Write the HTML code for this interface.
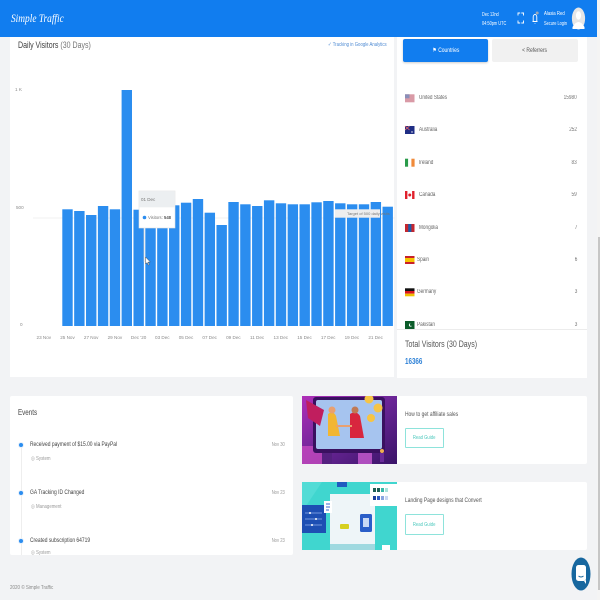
<!DOCTYPE html>
<html>
<head>
<meta charset="utf-8">
<style>
  html,body{margin:0;padding:0;}
  body{width:600px;height:600px;overflow:hidden;background:#f2f3f5;position:relative;font-family:"Liberation Sans",sans-serif;}
  .a{position:absolute;}
  .t{position:absolute;white-space:nowrap;line-height:10px;height:10px;}
  .n{display:inline-block;transform:scaleX(.78);transform-origin:left center;}
  .nr{display:inline-block;transform:scaleX(.78);transform-origin:right center;}
  .card{position:absolute;background:#fff;}
</style>
</head>
<body>

<!-- header -->
<div class="a" style="left:0;top:0;width:597px;height:37px;background:#117def;"></div>
<div class="t" style="left:11px;top:11px;height:14px;line-height:14px;color:#fff;font-family:'Liberation Serif',serif;font-style:italic;font-size:12px;"><span class="n">Simple Traffic</span></div>
<div class="t" style="left:482px;top:10px;color:#fff;font-size:5px;"><span class="n">Dec 12nd</span></div>
<div class="t" style="left:482px;top:19px;color:#fff;font-size:5px;"><span class="n">04:50pm UTC</span></div>
<svg class="a" style="left:0;top:0" width="600" height="40">
  <g stroke="#fff" stroke-width="0.9" fill="none">
    <path d="M518 15.5V13h2.2M521.3 13h2.2v2.5M523.5 20.5V23h-2.2M520.2 23H518v-2.5"/>
    <path d="M532.5 21.5h5M533.2 21.5v-4.5a1.8 2.5 0 0 1 3.6 0v4.5M535 23v.6"/>
  </g>
  <circle cx="537.2" cy="13" r="1.5" fill="#9aa7b8"/>
  <ellipse cx="578.5" cy="18.5" rx="6.6" ry="11" fill="#e6e6e6"/>
  <ellipse cx="578.5" cy="15.5" rx="2.6" ry="4.2" fill="#fff"/>
  <path d="M572.5 27 q6 -10 12 0 v2 h-12z" fill="#fff"/>
</svg>
<div class="t" style="left:544px;top:9px;color:#fff;font-size:5.5px;"><span class="n">Alasia Red</span></div>
<div class="t" style="left:544px;top:19px;color:#fff;font-size:5px;"><span class="n">Secure Login</span></div>

<!-- scrollbar -->
<div class="a" style="left:597px;top:0;width:3px;height:600px;background:#f4f4f4;"></div>
<div class="a" style="left:597.5px;top:237px;width:2.5px;height:353px;background:#c6c6c6;"></div>

<!-- chart card -->
<div class="card" style="left:10px;top:37px;width:384px;height:340px;"></div>
<div class="t" style="left:18px;top:40px;height:11px;line-height:11px;font-size:9px;color:#3d3d3d;"><span class="n">Daily Visitors <span style="color:#777">(30 Days)</span></span></div>
<div class="t" style="left:328px;top:40px;font-size:5.5px;color:#4f8bd3;"><span class="n">✓ Tracking in Google Analytics</span></div>

<svg class="a" style="left:0;top:0" width="600" height="360">
  <g font-family="Liberation Sans, sans-serif" fill="#8a8a8a" font-size="4.6">
    <text x="15" y="91">1 K</text>
    <text x="16" y="209">500</text>
    <text x="20" y="326">0</text>
  </g>
  <line x1="33" y1="218" x2="395" y2="218" stroke="#ececec" stroke-width="0.8"/>
  <g fill="#2b8def">
    <rect x="62.3" y="209.3" width="10.4" height="116.7"/>
    <rect x="74.16" y="211" width="10.4" height="115"/>
    <rect x="86.02" y="215" width="10.4" height="111"/>
    <rect x="97.88" y="206" width="10.4" height="120"/>
    <rect x="109.74" y="209.3" width="10.4" height="116.7"/>
    <rect x="121.6" y="90" width="10.4" height="236"/>
    <rect x="133.46" y="209.7" width="10.4" height="116.3"/>
    <rect x="145.32" y="209" width="10.4" height="117"/>
    <rect x="157.18" y="207" width="10.4" height="119"/>
    <rect x="169.04" y="205.3" width="10.4" height="120.7"/>
    <rect x="180.9" y="202.7" width="10.4" height="123.3"/>
    <rect x="192.76" y="199" width="10.4" height="127"/>
    <rect x="204.62" y="212.7" width="10.4" height="113.3"/>
    <rect x="216.48" y="225" width="10.4" height="101"/>
    <rect x="228.34" y="202" width="10.4" height="124"/>
    <rect x="240.2" y="204.3" width="10.4" height="121.7"/>
    <rect x="252.06" y="206" width="10.4" height="120"/>
    <rect x="263.92" y="200.3" width="10.4" height="125.7"/>
    <rect x="275.78" y="203.3" width="10.4" height="122.7"/>
    <rect x="287.64" y="204.3" width="10.4" height="121.7"/>
    <rect x="299.5" y="204.3" width="10.4" height="121.7"/>
    <rect x="311.36" y="202.3" width="10.4" height="123.7"/>
    <rect x="323.22" y="201" width="10.4" height="125"/>
    <rect x="335.08" y="203.3" width="10.4" height="122.7"/>
    <rect x="346.94" y="204.3" width="10.4" height="121.7"/>
    <rect x="358.8" y="204.3" width="10.4" height="121.7"/>
    <rect x="370.66" y="202" width="10.4" height="124"/>
    <rect x="382.52" y="206.7" width="10.4" height="119.3"/>
  </g>
  <g font-family="Liberation Sans, sans-serif" fill="#8a8a8a" font-size="4.6" text-anchor="middle">
    <text x="43.8" y="339">23 Nov</text>
    <text x="67.5" y="339">25 Nov</text>
    <text x="91.2" y="339">27 Nov</text>
    <text x="114.9" y="339">29 Nov</text>
    <text x="138.6" y="339">Dec '20</text>
    <text x="162.3" y="339">03 Dec</text>
    <text x="186" y="339">05 Dec</text>
    <text x="209.7" y="339">07 Dec</text>
    <text x="233.4" y="339">09 Dec</text>
    <text x="257.1" y="339">11 Dec</text>
    <text x="280.8" y="339">13 Dec</text>
    <text x="304.5" y="339">15 Dec</text>
    <text x="328.2" y="339">17 Dec</text>
    <text x="351.9" y="339">19 Dec</text>
    <text x="375.6" y="339">21 Dec</text>
  </g>
  <!-- target annotation -->
  <rect x="335" y="209.3" width="45" height="8.4" fill="#eeeeee"/>
  <text x="347" y="215" font-family="Liberation Sans, sans-serif" font-size="4" fill="#777">Target of 500 daily visits</text>
  <!-- crosshair -->
  <line x1="144" y1="228" x2="144" y2="262" stroke="#c9c9c9" stroke-width="0.6"/>
  <!-- tooltip -->
  <rect x="139" y="191" width="36" height="37" fill="#fff" stroke="#e2e2e2" stroke-width="0.6"/>
  <rect x="139.3" y="191.3" width="35.4" height="16" fill="#eceff1"/>
  <text x="141" y="201" font-family="Liberation Sans, sans-serif" font-size="4.5" fill="#777">01 Dec</text>
  <circle cx="144.5" cy="217.5" r="1.8" fill="#2b8def"/>
  <text x="148" y="219" font-family="Liberation Sans, sans-serif" font-size="4.2" fill="#777">Visitors: <tspan font-weight="bold" fill="#555">548</tspan></text>
  <!-- mouse cursor -->
  <path d="M145.5 257 v7 l1.6-1.5 1.2 2.6 1-.5-1.2-2.5 2.2-.1z" fill="#fff" stroke="#333" stroke-width="0.4"/>
</svg>

<!-- countries card -->
<div class="card" style="left:397px;top:37px;width:190px;height:341px;"></div>
<div class="a" style="left:403px;top:39px;width:85px;height:23px;background:#117def;border-radius:2px;box-shadow:0 1px 2px rgba(0,0,0,.2);"></div>
<div class="t" style="left:403px;top:45.5px;width:85px;text-align:center;color:#fff;font-size:6.2px;"><span style="display:inline-block;transform:scaleX(.8);">⚑ Countries</span></div>
<div class="a" style="left:492px;top:39px;width:86px;height:23px;background:#f1f1f1;border-radius:2px;"></div>
<div class="t" style="left:492px;top:45.5px;width:86px;text-align:center;color:#555;font-size:6.2px;"><span style="display:inline-block;transform:scaleX(.8);">&lt; Referrers</span></div>

<svg class="a" style="left:0;top:0" width="600" height="340">
  <!-- US -->
  <rect x="405" y="94.3" width="9.5" height="8" fill="#d99aa6"/>
  <rect x="405" y="94.3" width="4.5" height="4" fill="#8a8fb8"/>
  <!-- Australia -->
  <rect x="405" y="126" width="9.5" height="8" fill="#1f2e85"/>
  <path d="M405 126l4.5 4M409.5 126l-4.5 4" stroke="#e66" stroke-width="0.8"/>
  <circle cx="412" cy="132" r="0.7" fill="#fff"/>
  <!-- Ireland -->
  <rect x="405" y="158.7" width="3.2" height="8" fill="#2a9b4a"/>
  <rect x="408.2" y="158.7" width="3.2" height="8" fill="#fff"/>
  <rect x="411.4" y="158.7" width="3.2" height="8" fill="#f08a3a"/>
  <!-- Canada -->
  <rect x="405" y="191" width="9.5" height="8" fill="#e0202c"/>
  <rect x="407.4" y="191" width="4.7" height="8" fill="#fff"/>
  <circle cx="409.75" cy="195" r="1.5" fill="#e0202c"/>
  <!-- Mongolia -->
  <rect x="405" y="224" width="9.5" height="8" fill="#c4272f"/>
  <rect x="408.2" y="224" width="3.2" height="8" fill="#1d5ca8"/>
  <!-- Spain -->
  <rect x="405" y="256" width="9.5" height="8" fill="#c8202a"/>
  <rect x="405" y="258" width="9.5" height="4" fill="#f5c400"/>
  <!-- Germany -->
  <rect x="405" y="288.3" width="9.5" height="2.7" fill="#111"/>
  <rect x="405" y="291" width="9.5" height="2.7" fill="#d8141e"/>
  <rect x="405" y="293.7" width="9.5" height="2.6" fill="#f0c000"/>
  <!-- Pakistan -->
  <rect x="405" y="321" width="9.5" height="8" fill="#0b5c2a"/>
  <circle cx="410.5" cy="325" r="1.6" fill="#fff"/>
  <circle cx="411.2" cy="324.6" r="1.3" fill="#0b5c2a"/>
</svg>
<div style="position:absolute;left:397px;top:37px;width:190px;height:292px;overflow:hidden;">
  <div class="t" style="left:22px;top:56.3px;font-size:6px;color:#666;"><span class="n">United States</span></div>
  <div class="t" style="left:22px;top:88px;font-size:6px;color:#666;"><span class="n">Australia</span></div>
  <div class="t" style="left:22px;top:120.7px;font-size:6px;color:#666;"><span class="n">Ireland</span></div>
  <div class="t" style="left:22px;top:153px;font-size:6px;color:#666;"><span class="n">Canada</span></div>
  <div class="t" style="left:22px;top:186px;font-size:6px;color:#666;"><span class="n">Mongolia</span></div>
  <div class="t" style="left:20px;top:218px;font-size:6px;color:#666;"><span class="n">Spain</span></div>
  <div class="t" style="left:20px;top:250.3px;font-size:6px;color:#666;"><span class="n">Germany</span></div>
  <div class="t" style="left:20px;top:283px;font-size:6px;color:#666;"><span class="n">Pakistan</span></div>
  <div class="t" style="right:10px;top:56.3px;font-size:6px;color:#777;text-align:right;"><span class="nr">15980</span></div>
  <div class="t" style="right:10px;top:88px;font-size:6px;color:#777;text-align:right;"><span class="nr">252</span></div>
  <div class="t" style="right:10px;top:120.7px;font-size:6px;color:#777;text-align:right;"><span class="nr">83</span></div>
  <div class="t" style="right:10px;top:153px;font-size:6px;color:#777;text-align:right;"><span class="nr">59</span></div>
  <div class="t" style="right:10px;top:186px;font-size:6px;color:#777;text-align:right;"><span class="nr">7</span></div>
  <div class="t" style="right:10px;top:218px;font-size:6px;color:#777;text-align:right;"><span class="nr">6</span></div>
  <div class="t" style="right:10px;top:250.3px;font-size:6px;color:#777;text-align:right;"><span class="nr">3</span></div>
  <div class="t" style="right:10px;top:283px;font-size:6px;color:#777;text-align:right;"><span class="nr">3</span></div>
</div>
<div class="a" style="left:397px;top:329px;width:190px;height:1px;background:#ececec;"></div>
<div class="t" style="left:405px;top:338.5px;height:11px;line-height:11px;font-size:9px;color:#555;"><span class="n">Total Visitors (30 Days)</span></div>
<div class="t" style="left:405px;top:357px;font-size:8px;font-weight:bold;color:#2a7fd6;"><span class="n">16366</span></div>

<!-- events card -->
<div class="card" style="left:10px;top:396px;width:283px;height:159px;border-radius:2px;overflow:hidden;">
  <div class="a" style="left:10.6px;top:51px;width:0.8px;height:120px;background:#eeeeee;"></div>
  <div class="t" style="left:8px;top:12px;font-size:8px;color:#444;"><span class="n">Events</span></div>

  <div class="a" style="left:9px;top:47px;width:4px;height:4px;border-radius:50%;background:#2b8def;box-shadow:0 0 0 1px #e6f0fb;"></div>
  <div class="t" style="left:20px;top:44px;font-size:6.3px;color:#444;"><span class="n">Received payment of $15.00 via PayPal</span></div>
  <div class="t" style="right:8px;top:44px;font-size:5.3px;color:#999;"><span class="nr">Nov 30</span></div>
  <div class="t" style="left:21px;top:58px;font-size:5.6px;color:#999;"><span class="n">◎ System</span></div>

  <div class="a" style="left:9px;top:95px;width:4px;height:4px;border-radius:50%;background:#2b8def;box-shadow:0 0 0 1px #e6f0fb;"></div>
  <div class="t" style="left:20px;top:92px;font-size:6.3px;color:#444;"><span class="n">GA Tracking ID Changed</span></div>
  <div class="t" style="right:8px;top:92px;font-size:5.3px;color:#999;"><span class="nr">Nov 23</span></div>
  <div class="t" style="left:21px;top:105.5px;font-size:5.6px;color:#999;"><span class="n">◎ Management</span></div>

  <div class="a" style="left:9px;top:143px;width:4px;height:4px;border-radius:50%;background:#2b8def;box-shadow:0 0 0 1px #e6f0fb;"></div>
  <div class="t" style="left:20px;top:140px;font-size:6.3px;color:#444;"><span class="n">Created subscription 64719</span></div>
  <div class="t" style="right:8px;top:140px;font-size:5.3px;color:#999;"><span class="nr">Nov 23</span></div>
  <div class="t" style="left:21px;top:152px;font-size:5.6px;color:#999;"><span class="n">◎ System</span></div>
</div>

<!-- article cards -->
<div class="card" style="left:302px;top:396px;width:285px;height:68px;border-radius:2px;"></div>
<div class="card" style="left:302px;top:482px;width:285px;height:68px;border-radius:2px;"></div>

<svg class="a" style="left:302px;top:396px" width="95" height="68">
  <defs>
    <linearGradient id="g1" x1="0" y1="0" x2="1" y2="1">
      <stop offset="0" stop-color="#b02fb8"/>
      <stop offset="0.5" stop-color="#6a2596"/>
      <stop offset="1" stop-color="#3a1468"/>
    </linearGradient>
  </defs>
  <rect width="95" height="68" fill="url(#g1)"/>
  <rect x="0" y="50" width="30" height="18" fill="#d24fc4" opacity="0.7"/>
  <rect x="11" y="1" width="72" height="56" rx="3" fill="#3a1060"/>
  <rect x="14" y="4" width="66" height="49" rx="2" fill="#a6c4ef"/>
  <path d="M4 4 L22 14 L18 30 L6 22z" fill="#c01e5e"/>
  <path d="M26 18 q5 -4 8 2 l4 20 h-12z" fill="#f2b632"/>
  <circle cx="30" cy="14" r="3.5" fill="#e9a070"/>
  <path d="M48 18 q6 -4 10 2 l4 22 h-14z" fill="#d8263e"/>
  <circle cx="53" cy="14" r="3.5" fill="#c07a55"/>
  <path d="M34 30 h16" stroke="#e9a070" stroke-width="2"/>
  <circle cx="67" cy="3" r="4.5" fill="#f6c444"/>
  <circle cx="76" cy="12" r="4.5" fill="#f6c444"/>
  <circle cx="69" cy="22" r="4" fill="#f6c444"/>
  <rect x="20" y="57" width="10" height="11" fill="#552080"/>
  <rect x="56" y="57" width="14" height="11" fill="#c85bd0" opacity="0.8"/>
  <circle cx="80" cy="55" r="2" fill="#f0b050"/>
  <rect x="78" y="57" width="4" height="9" fill="#6a2a9a"/>
</svg>

<svg class="a" style="left:302px;top:482px" width="95" height="68">
  <rect width="95" height="68" fill="#40d6cf"/>
  <path d="M0 0 L20 0 L0 30z" fill="#5fe0da" opacity="0.6"/>
  <rect x="28" y="12" width="45" height="50" fill="#eef5f8"/>
  <rect x="35" y="0" width="10" height="5" fill="#1f5bc0"/>
  <rect x="0" y="23" width="24" height="28" fill="#1d4fb3"/>
  <path d="M3 31h17M3 37h17M3 43h17" stroke="#8fb0ea" stroke-width="0.7"/>
  <circle cx="8" cy="31" r="1" fill="#fff"/><circle cx="14" cy="37" r="1" fill="#fff"/><circle cx="10" cy="43" r="1" fill="#fff"/>
  <rect x="22" y="19" width="8" height="12" fill="#fff"/>
  <path d="M24 22h4M24 25h4M24 28h3" stroke="#3a6ad0" stroke-width="1"/>
  <rect x="68" y="2" width="27" height="22" fill="#fff"/>
  <rect x="71" y="6" width="3" height="4" fill="#1e5e55"/><rect x="75" y="6" width="3" height="4" fill="#1e5e55"/><rect x="79" y="6" width="3" height="4" fill="#3ab8a8"/><rect x="83" y="6" width="3" height="4" fill="#a9e2dc"/>
  <rect x="71" y="14" width="3" height="4" fill="#1d3f9a"/><rect x="75" y="14" width="3" height="4" fill="#2d58c0"/><rect x="79" y="14" width="3" height="4" fill="#8aa5e0"/><rect x="83" y="14" width="3" height="4" fill="#c9d6f2"/>
  <rect x="58" y="32" width="12" height="18" rx="1.5" fill="#2a5ec8"/>
  <rect x="61" y="36" width="6" height="9" fill="#c8d8f4"/>
  <rect x="38" y="42" width="9" height="5" rx="1" fill="#d6d020"/>
  <rect x="28" y="62" width="45" height="6" fill="#9fd9e0"/>
  <rect x="80" y="63" width="8" height="5" fill="#fff"/>
</svg>

<div class="t" style="left:405px;top:410px;font-size:6.3px;color:#555;"><span class="n">How to get affiliate sales</span></div>
<div class="a" style="left:405px;top:428px;width:39px;height:20px;border:1px solid #8ee3db;border-radius:1px;box-sizing:border-box;"></div>
<div class="t" style="left:405px;top:433px;width:39px;text-align:center;font-size:5.3px;color:#4ec9be;"><span style="display:inline-block;transform:scaleX(.8);">Read Guide</span></div>

<div class="t" style="left:405px;top:496px;font-size:6.3px;color:#555;"><span class="n">Landing Page designs that Convert</span></div>
<div class="a" style="left:405px;top:514px;width:39px;height:21px;border:1px solid #8ee3db;border-radius:1px;box-sizing:border-box;"></div>
<div class="t" style="left:405px;top:519.5px;width:39px;text-align:center;font-size:5.3px;color:#4ec9be;"><span style="display:inline-block;transform:scaleX(.8);">Read Guide</span></div>

<!-- footer -->
<div class="t" style="left:10px;top:583px;font-size:5.8px;color:#888;"><span class="n">2020 © Simple Traffic</span></div>

<!-- chat bubble -->
<svg class="a" style="left:570px;top:556px" width="22" height="36">
  <ellipse cx="11" cy="18" rx="9.5" ry="16.5" fill="#17679f"/>
  <rect x="6" y="9" width="10" height="16" rx="2.5" fill="#fff"/>
  <path d="M8.5 20 q2.5 2 5 0" stroke="#17679f" stroke-width="0.9" fill="none"/>
  <path d="M14 25 l2 3 v-4z" fill="#fff"/>
</svg>

</body>
</html>
